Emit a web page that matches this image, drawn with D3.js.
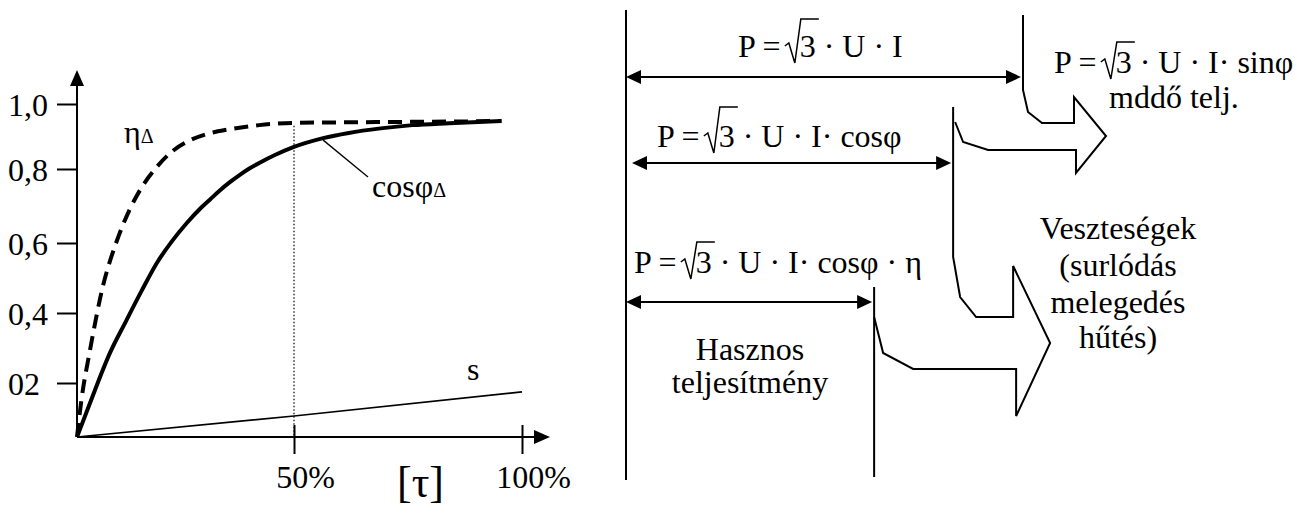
<!DOCTYPE html>
<html>
<head>
<meta charset="utf-8">
<script src="https://cdn.jsdelivr.net/npm/d3@7"></script>
</head>
<body style="margin:0">
<svg id="chart" width="1310" height="507"></svg>
<script>
// Efficiency of the delta-connected motor vs. load (% of rated)
const etaLoad = [0, 1, 3, 6, 9, 12, 15, 18, 22, 26, 30, 35, 42, 50, 57, 65, 75, 85, 95.5];
const etaDelta = [0, 0.135, 0.294, 0.478, 0.600, 0.687, 0.752, 0.800, 0.855, 0.888, 0.908, 0.922, 0.935, 0.942, 0.943, 0.944, 0.945, 0.946, 0.948];
// Power factor of the delta-connected motor vs. load
const cosLoad = [0, 3, 7.6, 11.3, 15, 18.4, 21.9, 25.3, 28.3, 30.6, 32.9, 35.3, 37.6, 39.9, 42.2, 45.6, 50, 56.4, 62, 69, 76, 84, 95.5];
const cosPhiDelta = [0, 0.126, 0.286, 0.377, 0.466, 0.543, 0.605, 0.654, 0.692, 0.717, 0.742, 0.765, 0.785, 0.803, 0.820, 0.843, 0.868, 0.895, 0.911, 0.925, 0.935, 0.941, 0.948];
// Slip vs. load
const slipLoad = [0, 50, 100];
const slipVals = [0, 0.078, 0.167];

const yTickVals = [1.0, 0.8, 0.6, 0.4, 0.2];
const yTickLabels = ["1,0", "0,8", "0,6", "0,4", "02"];
const xTickVals = [50, 100];
const xTickLabels = ["50%", "100%"];

// Power flow: share of the apparent power carried by each stage
const powerStages = ["apparent", "active", "useful"];
const powerShare = [100, 82.4, 62.5];
const powerFormulas = [" · U · I", " · U · I· cos\u03C6", " · U · I· cos\u03C6 · \u03B7"];
const reactiveFormula = " · U · I· sin\u03C6";
const reactiveLabel = "mdd\u0151 telj.";
const usefulLabel = ["Hasznos", "teljes\u00EDtm\u00E9ny"];
const lossLabel = ["Vesztes\u00E9gek", "(surl\u00F3d\u00E1s", "meleged\u00E9s", "h\u0171t\u00E9s)"];

const FONT = '"Liberation Serif"';
const FS = 32;

const svg = d3.select("#chart").attr("fill", "#000");

// every label uses the serif face explicitly
const txt = (parent, size = FS) => parent.append("text")
  .style("font-family", FONT).style("font-size", size + "px");

// ================= left: load characteristics =================
const x = d3.scaleLinear().domain([0, 50, 100]).range([77, 294, 522]);
const y = d3.scaleLinear().domain([0, 0.2, 0.4, 0.6, 0.8, 1.0]).range([437, 383, 313, 243, 169, 104]);

const gL = svg.append("g");

// y axis with ticks and labels
const gy = gL.append("g")
  .attr("transform", `translate(${x(0)},0)`)
  .call(d3.axisLeft(y).tickValues(yTickVals)
    .tickFormat((d, i) => yTickLabels[i]).tickSizeInner(20).tickSizeOuter(0));
gy.attr("font-family", null).attr("font-size", null);
gy.select(".domain").remove();
gy.selectAll(".tick line").attr("stroke", "#000").attr("stroke-width", 2);
gy.selectAll(".tick text")
  .attr("x", 8 - x(0)).attr("dy", "0.35em")
  .attr("text-anchor", "start").attr("fill", "#000")
  .style("font-family", FONT).style("font-size", FS + "px");

// x axis with ticks and labels
const gx = gL.append("g")
  .attr("transform", `translate(0,${y(0)})`)
  .call(d3.axisBottom(x).tickValues(xTickVals)
    .tickFormat((d, i) => xTickLabels[i]).tickSizeOuter(0));
gx.attr("font-family", null).attr("font-size", null);
gx.select(".domain").remove();
gx.selectAll(".tick line").attr("stroke", "#000").attr("stroke-width", 2)
  .attr("y1", -12).attr("y2", 17);
gx.selectAll(".tick text")
  .attr("y", 51).attr("dy", 0).attr("x", 11)
  .attr("text-anchor", "middle").attr("fill", "#000")
  .style("font-family", FONT).style("font-size", FS + "px");

// axis lines with arrowheads
const yTop = y(1.0) - 34, xEnd = x(100) + 28;
gL.append("line").attr("x1", x(0)).attr("y1", y(0)).attr("x2", x(0)).attr("y2", yTop + 14)
  .attr("stroke", "#000").attr("stroke-width", 2);
gL.append("path").attr("d", `M${x(0)},${yTop} L${x(0) - 7},${yTop + 16} L${x(0) + 7},${yTop + 16} Z`).attr("fill", "#000");
gL.append("line").attr("x1", x(0)).attr("y1", y(0)).attr("x2", xEnd - 14).attr("y2", y(0))
  .attr("stroke", "#000").attr("stroke-width", 2);
gL.append("path").attr("d", `M${xEnd},${y(0)} L${xEnd - 16},${y(0) - 7} L${xEnd - 16},${y(0) + 7} Z`).attr("fill", "#000");

// dotted marker at half load
const i50 = etaLoad.indexOf(50);
gL.append("line")
  .attr("x1", x(50)).attr("x2", x(50))
  .attr("y1", y(etaDelta[i50]) + 3).attr("y2", y(0))
  .attr("stroke", "#000").attr("stroke-width", 1.2).attr("stroke-dasharray", "1.5,2");

const curve = d3.line().x(d => x(d[0])).y(d => y(d[1])).curve(d3.curveMonotoneX);

// slip
gL.append("path")
  .attr("d", d3.line().x(d => x(d[0])).y(d => y(d[1]))(slipLoad.map((v, i) => [v, slipVals[i]])))
  .attr("fill", "none").attr("stroke", "#000").attr("stroke-width", 1.6);

// efficiency (dashed)
gL.append("path")
  .attr("d", curve(etaLoad.map((v, i) => [v, etaDelta[i]])))
  .attr("fill", "none").attr("stroke", "#000").attr("stroke-width", 4)
  .attr("stroke-dasharray", "14,8");

// power factor (solid)
gL.append("path")
  .attr("d", curve(cosLoad.map((v, i) => [v, cosPhiDelta[i]])))
  .attr("fill", "none").attr("stroke", "#000").attr("stroke-width", 4);

// curve labels
const etaLbl = txt(gL).attr("x", 124).attr("y", 143);
etaLbl.append("tspan").text("\u03B7");
etaLbl.append("tspan").style("font-size", "20px").text("\u0394");

const iLead = cosLoad.indexOf(56.4);
gL.append("line")
  .attr("x1", x(cosLoad[iLead])).attr("y1", y(cosPhiDelta[iLead]) + 2)
  .attr("x2", 368).attr("y2", 177)
  .attr("stroke", "#000").attr("stroke-width", 1.3);
const cosLbl = txt(gL).attr("x", 372).attr("y", 197);
cosLbl.append("tspan").text("cos\u03C6");
cosLbl.append("tspan").style("font-size", "20px").text("\u0394");

txt(gL).attr("x", 467).attr("y", 380).text("s");
txt(gL, 44).attr("x", 397).attr("y", 497).text("[\u03C4]");

// ================= right: power flow diagram =================
const pw = d3.scaleLinear().domain([0, 100]).range([626, 1023]);
const stageX = powerShare.map(pw);
const gR = svg.append("g");
const stroke = sel => sel.attr("fill", "none").attr("stroke", "#000").attr("stroke-width", 2);

// zero-power reference line
gR.append("line").attr("x1", pw(0)).attr("x2", pw(0)).attr("y1", 10).attr("y2", 480).call(stroke);

// double-headed dimension arrows for each stage
const rowY = [77, 163, 302];
const rowStart = [0, 6, 0];
function dimArrow(x1, x2, yy) {
  const h = 15, w = 7;
  gR.append("line").attr("x1", x1 + h - 1).attr("x2", x2 - h + 1).attr("y1", yy).attr("y2", yy).call(stroke);
  gR.append("path").attr("d", `M${x1},${yy} L${x1 + h},${yy - w} L${x1 + h},${yy + w} Z`).attr("fill", "#000");
  gR.append("path").attr("d", `M${x2},${yy} L${x2 - h},${yy - w} L${x2 - h},${yy + w} Z`).attr("fill", "#000");
}
powerStages.forEach((s, i) => dimArrow(pw(0) + rowStart[i], stageX[i] - 2, rowY[i]));

// stage boundary lines and the bent outflow arrows between them
const [L0, L1, L2] = stageX;
const poly = d3.line();
gR.append("path").attr("d", poly([
  [L0, 15], [L0, 90], [L0 + 5, 112], [L0 + 19, 123], [L0 + 51, 123], [L0 + 51, 97],
  [L0 + 83, 136], [L0 + 53, 173], [L0 + 53, 150], [L1 + 35, 150], [L1 + 10, 142], [L1 + 2, 122]
])).call(stroke).attr("stroke-linejoin", "miter");
gR.append("path").attr("d", poly([
  [L1, 107], [L1, 257], [L1 + 7, 297], [L1 + 23, 317], [L1 + 60, 317], [L1 + 60, 266],
  [L1 + 97, 343], [L1 + 63, 416], [L1 + 63, 369], [L2 + 39, 369], [L2 + 9, 353], [L2, 317]
])).call(stroke).attr("stroke-linejoin", "miter");
gR.append("line").attr("x1", L2).attr("x2", L2).attr("y1", 287).attr("y2", 477).call(stroke);

// P = √3 · U · I ... formulas with a drawn radical.
// Advance widths (em) of the serif face: "P =" and the digit 3.
const EM_P_EQ = 0.556 + 0.25 + 0.564, EM_DIGIT = 0.5;
const RAD_GAP = 19;
function formula(x0, base, post, top) {
  const t = txt(gR).attr("x", x0).attr("y", base);
  t.append("tspan").text("P =");
  t.append("tspan").attr("dx", RAD_GAP).text("3");
  t.append("tspan").text(post);
  const rx = x0 + EM_P_EQ * FS + 3;
  const threeEnd = x0 + EM_P_EQ * FS + RAD_GAP + EM_DIGIT * FS;
  gR.append("path")
    .attr("d", `M${rx},${base - 11} L${rx + 4},${base - 14} L${rx + 10},${base + 6} L${rx + 16},${base - top} L${threeEnd + 2},${base - top}`)
    .attr("fill", "none").attr("stroke", "#000").attr("stroke-width", 1.5).attr("stroke-linejoin", "miter");
}
formula(738, 57, powerFormulas[0], 38);
formula(657, 147, powerFormulas[1], 40);
formula(634, 273, powerFormulas[2], 31);
formula(1054, 73, reactiveFormula, 31);

txt(gR).attr("x", 1109).attr("y", 108).text(reactiveLabel);

const usefulY = [360, 393];
usefulLabel.forEach((s, i) =>
  txt(gR).attr("x", 750).attr("y", usefulY[i]).attr("text-anchor", "middle").text(s));

const lossY = [239, 276, 313, 348];
lossLabel.forEach((s, i) =>
  txt(gR).attr("x", 1118).attr("y", lossY[i]).attr("text-anchor", "middle").text(s));
</script>
</body>
</html>
